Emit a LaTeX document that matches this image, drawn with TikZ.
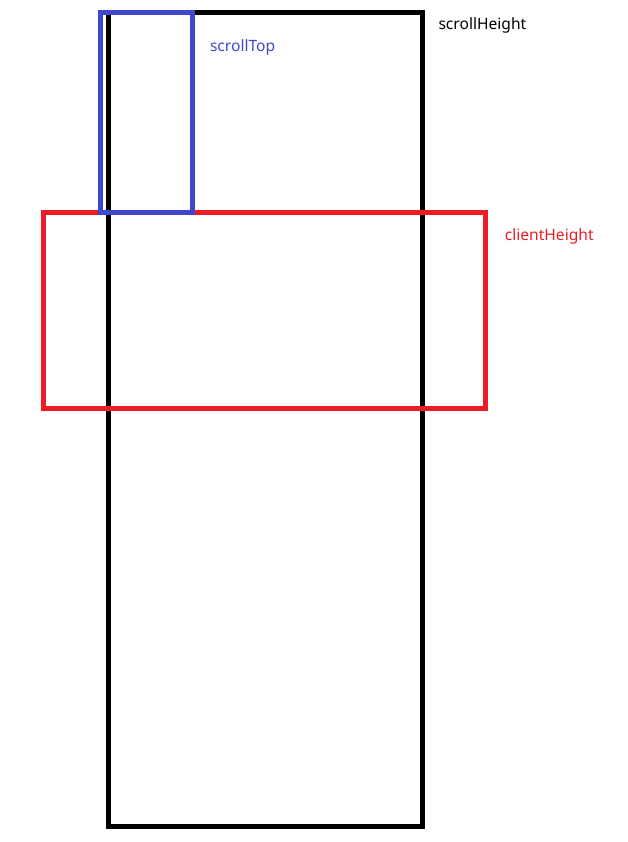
\documentclass[tikz,border=0pt]{standalone}
\usepackage{fontspec}
\setmainfont{Noto Sans}
\definecolor{black1}{RGB}{0, 0, 0}
\definecolor{blue1}{RGB}{63, 72, 204}
\definecolor{red1}{RGB}{237, 28, 36}
\begin{document}
\begin{tikzpicture}[x=1pt, y=-1pt, line width=5pt,
  label/.style={anchor=base west, inner sep=0pt, font=\fontsize{15.6}{18}\selectfont}]
  \useasboundingbox (0,0) rectangle (628,842);

  \draw[black1] (108.5,12.5) rectangle (422.5,826);
  \draw[red1] (43,212.5) rectangle (485.5,408);
  \draw[blue1] (100,12.5) rectangle (192.5,212.5);

  \node[label, text=black1] (scrollheight) at (436,29.3) {scrollHeight};
  \node[label, text=blue1] (scrolltop) at (207.5,52) {scrollTop};
  \node[label, text=red1] (clientheight) at (502.3,240.7) {clientHeight};
\end{tikzpicture}
\end{document}
